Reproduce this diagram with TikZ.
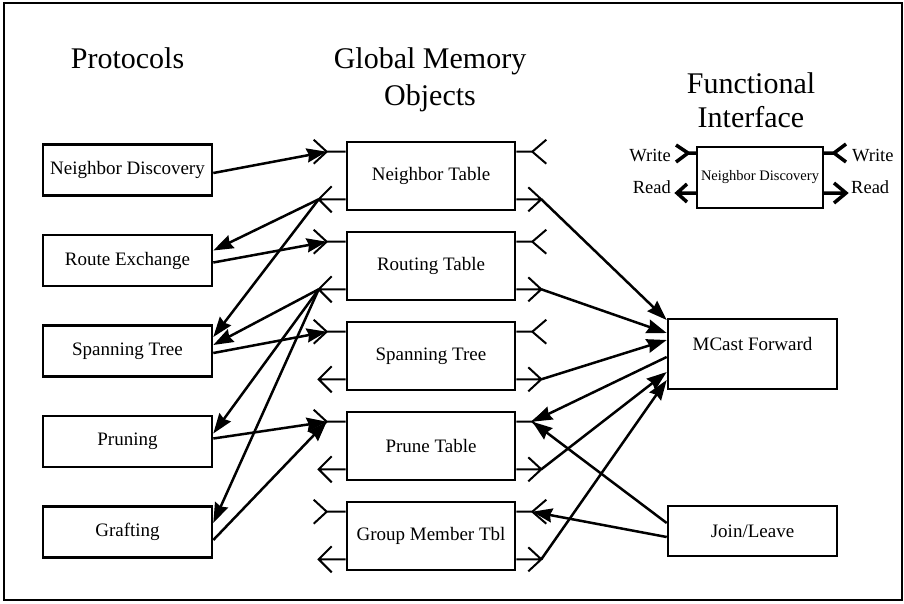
\documentclass[tikz,border=0pt]{standalone}
\usepackage{fontspec}
\setmainfont{Liberation Serif}
\usetikzlibrary{arrows.meta,calc}

\tikzset{
  box/.style={draw, line width=2.6pt, inner sep=0pt, fill=white,
    font=\fontsize{19}{22}\selectfont},
  membox/.style={box, minimum width=168pt, minimum height=68pt},
  protbox/.style={box, minimum width=169pt, minimum height=51pt},
  port/.style={line width=2pt},
  fport/.style={line width=3.5pt},
  flow/.style={line width=2.5pt, -{Stealth[length=20pt,width=14pt,inset=2pt]}},
  title/.style={anchor=base, font=\fontsize{30}{34}\selectfont},
  portlabel/.style={font=\fontsize{18.5}{21}\selectfont, inner sep=0pt},
}

% write/read ports on both sides of a memory object
\newcommand\memports[1]{%
  \coordinate (#1-lw) at ($(#1.north west)+(-19,11)$);
  \coordinate (#1-lr) at ($(#1.south west)+(-27,-12)$);
  \coordinate (#1-rw) at ($(#1.north east)+(16,11)$);
  \coordinate (#1-rr) at ($(#1.south east)+(25,-12)$);
  \draw[port] (#1-lw -| #1.west) -- (#1-lw)
    ($(#1-lw)+(-13,-12)$) -- (#1-lw) -- ($(#1-lw)+(-13,12)$);
  \draw[port] (#1-lr -| #1.west) -- (#1-lr)
    ($(#1-lr)+(13,-13)$) -- (#1-lr) -- ($(#1-lr)+(13,13)$);
  \draw[port] (#1-rw -| #1.east) -- (#1-rw)
    ($(#1-rw)+(14,-12)$) -- (#1-rw) -- ($(#1-rw)+(14,12)$);
  \draw[port] (#1-rr -| #1.east) -- (#1-rr)
    ($(#1-rr)+(-13,-12)$) -- (#1-rr) -- ($(#1-rr)+(-13,12)$);
}

\begin{document}
\begin{tikzpicture}[x=1pt,y=-1pt]
  \useasboundingbox (0,0) rectangle (904,603);
  \draw[line width=2pt] (4,3) rectangle (902,600);

  % column headings
  \node[title] at (127.5,68) {Protocols};
  \node[title] at (430,68) {Global Memory};
  \node[title] at (430,105) {Objects};
  \node[title] at (751,93) {Functional};
  \node[title] at (751,127) {Interface};

  % protocols
  \node[protbox] (nd)  at (127.5,170)   {Neighbor Discovery};
  \node[protbox] (rx)  at (127.5,260.5) {Route Exchange};
  \node[protbox] (stp) at (127.5,351)   {Spanning Tree};
  \node[protbox] (pr)  at (127.5,441.5) {Pruning};
  \node[protbox] (gr)  at (127.5,532)   {Grafting};

  % global memory objects
  \node[membox] (nt) at (431,176) {Neighbor Table};
  \node[membox] (rt) at (431,266) {Routing Table};
  \node[membox] (sp) at (431,356) {Spanning Tree};
  \node[membox] (pt) at (431,446) {Prune Table};
  \node[membox] (gm) at (431,536) {Group Member Tbl};
  \memports{nt}
  \memports{rt}
  \memports{sp}
  \memports{pt}
  \memports{gm}

  % consumers
  \node[box, minimum width=169pt, minimum height=70pt] (mc) at (752.5,354) {};
  \node[font=\fontsize{19}{22}\selectfont] at (752.5,344) {MCast Forward};
  \node[box, minimum width=169pt, minimum height=50pt] (jl) at (752.5,531) {Join/Leave};

  % legend: functional interface
  \node[draw, line width=2pt, inner sep=0pt, minimum width=126pt, minimum height=61pt,
        font=\fontsize{14.5}{17}\selectfont] (fi) at (760,177.5) {Neighbor Discovery};
  \coordinate (fi-lw) at ($(fi.north west)+(-8,7)$);
  \coordinate (fi-lr) at ($(fi.south west)+(-19,-16)$);
  \coordinate (fi-rw) at ($(fi.north east)+(10,7)$);
  \coordinate (fi-rr) at ($(fi.south east)+(22,-16)$);
  \draw[fport] (fi-lw -| fi.west) -- (fi-lw)
    ($(fi-lw)+(-12,-8)$) -- (fi-lw) -- ($(fi-lw)+(-12,9)$);
  \draw[fport] (fi-lr -| fi.west) -- (fi-lr)
    ($(fi-lr)+(10,-9)$) -- (fi-lr) -- ($(fi-lr)+(10,9)$);
  \draw[fport] (fi-rw -| fi.east) -- (fi-rw)
    ($(fi-rw)+(12,-9)$) -- (fi-rw) -- ($(fi-rw)+(12,9)$);
  \draw[fport] (fi-rr -| fi.east) -- (fi-rr)
    ($(fi-rr)+(-12,-10)$) -- (fi-rr) -- ($(fi-rr)+(-12,10)$);
  \node[portlabel, anchor=base east] at (671,161) {Write};
  \node[portlabel, anchor=base east] at (671,193) {Read};
  \node[portlabel, anchor=base west] at (852,161) {Write};
  \node[portlabel, anchor=base west] at (851,193) {Read};

  % protocols <-> memory objects
  \draw[flow] ($(nd.east)+(0,3)$) -- (nt-lw);
  \draw[flow] (nt-lr) -- ($(rx.east)+(0,-10)$);
  \draw[flow] (nt-lr) -- ($(stp.east)+(0,-14)$);
  \draw[flow] ($(rx.east)+(0,2)$) -- (rt-lw);
  \draw[flow] (rt-lr) -- ($(stp.east)+(0,-6)$);
  \draw[flow] ($(stp.east)+(0,2)$) -- (sp-lw);
  \draw[flow] (rt-lr) -- ($(pr.east)+(0,-8)$);
  \draw[flow] (rt-lr) -- ($(gr.east)+(0,-9)$);
  \draw[flow] ($(pr.east)+(0,-3)$) -- (pt-lw);
  \draw[flow] ($(gr.east)+(0,8)$) -- (pt-lw);

  % memory objects <-> forwarding and membership
  \draw[flow] (nt-rr) -- ($(mc.west)+(0,-34)$);
  \draw[flow] (rt-rr) -- ($(mc.west)+(0,-21)$);
  \draw[flow] (sp-rr) -- ($(mc.west)+(0,-14)$);
  \draw[flow] ($(mc.west)+(0,3)$) -- (pt-rw);
  \draw[flow] (pt-rr) -- ($(mc.west)+(0,18)$);
  \draw[flow] (gm-rr) -- ($(mc.west)+(0,26)$);
  \draw[flow] ($(jl.west)+(0,-8)$) -- (pt-rw);
  \draw[flow] ($(jl.west)+(0,6)$) -- (gm-rw);
\end{tikzpicture}
\end{document}
